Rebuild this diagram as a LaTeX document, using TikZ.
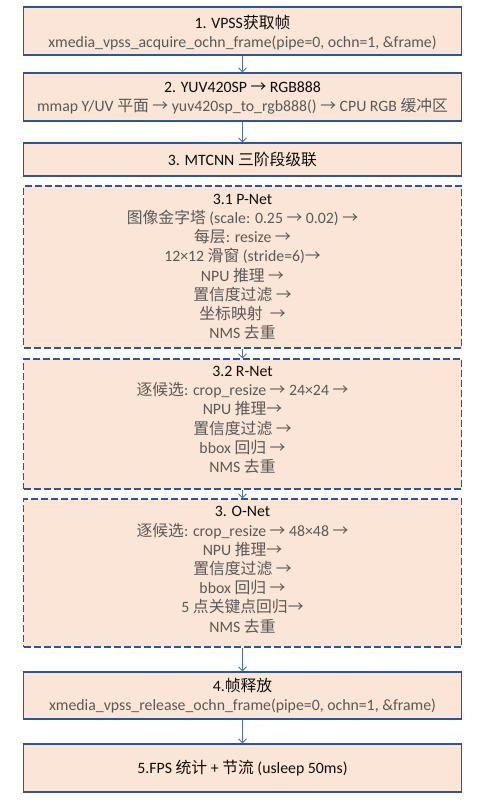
\documentclass[tikz,border=0pt]{standalone}
\usepackage{fontspec}
\setmainfont{Carlito}
\newfontfamily\cjk{Noto Sans CJK SC}
\usetikzlibrary{arrows.meta}
\definecolor{boxfill}{HTML}{FBE5D6}
\definecolor{boxline}{HTML}{2F5597}
\definecolor{arrowc}{HTML}{4472C4}
\definecolor{bodyc}{HTML}{595959}
\definecolor{titlec}{HTML}{0D0D0D}
\newcommand\zh[1]{{\cjk #1}}
\newcommand\ttl[1]{\textcolor{titlec}{#1}}
\begin{document}
\begin{tikzpicture}[x=1pt,y=-1pt,
 box/.style={draw=boxline, line width=1.2pt, fill=boxfill, minimum width=438pt, inner sep=0pt},
 dbox/.style={box, dash pattern=on 7pt off 3pt},
 txt/.style={align=center, font=\fontsize{15.8}{19.2}\selectfont, inner sep=0pt, text=bodyc},
 flow/.style={draw=arrowc, line width=0.9pt, -{Straight Barb[length=4pt,width=8pt]}}]
\useasboundingbox (0,0) rectangle (482,803);
\fill[white] (0,0) rectangle (482,803);
\node[box, minimum height=48pt] (b1) at (242.5,31) {};
\node[box, minimum height=48pt] (b2) at (242.5,97) {};
\node[box, minimum height=33pt] (b3) at (242.5,159.5) {};
\node[dbox, minimum height=162pt] (p) at (242.5,267) {};
\node[dbox, minimum height=130pt] (r) at (242.5,424) {};
\node[dbox, minimum height=148pt] (o) at (242.5,573) {};
\node[box, minimum height=47pt] (b4) at (242.5,695.5) {};
\node[box, minimum height=48pt] (b5) at (242.5,768) {};

\node[txt] (t1) at (242.5,33) {\ttl{1. VPSS\zh{获取帧}}\\ xmedia\_vpss\_acquire\_ochn\_frame(pipe=0, ochn=1, \&frame)};
\node[txt] (t2) at (242.5,98) {\ttl{2. YUV420SP \zh{→} RGB888}\\ mmap Y/UV \zh{平面} \zh{→} yuv420sp\_to\_rgb888() \zh{→} CPU RGB \zh{缓冲区}};
\node[txt] (t3) at (242.5,160) {\ttl{3. MTCNN \zh{三阶段级联}}};
\node[txt] (tp) at (242.5,267) {\ttl{3.1 P-Net}\\ \zh{图像金字塔} (scale: 0.25 \zh{→} 0.02) \zh{→}\\ \zh{每层}: resize \zh{→}\\ 12×12 \zh{滑窗} (stride=6)\zh{→}\\ NPU \zh{推理} \zh{→}\\ \zh{置信度过滤} \zh{→}\\ \zh{坐标映射} \ \zh{→}\\ NMS \zh{去重}};
\node[txt] (tr) at (242.5,420) {\ttl{3.2 R-Net}\\ \zh{逐候选}: crop\_resize \zh{→} 24×24 \zh{→}\\ NPU \zh{推理}\zh{→}\\ \zh{置信度过滤} \zh{→}\\ bbox \zh{回归} \zh{→}\\ NMS \zh{去重}};
\node[txt] (to) at (242.5,570) {\ttl{3. O-Net}\\ \zh{逐候选}: crop\_resize \zh{→} 48×48 \zh{→}\\ NPU \zh{推理}\zh{→}\\ \zh{置信度过滤} \zh{→}\\ bbox \zh{回归} \zh{→}\\ 5 \zh{点关键点回归}\zh{→}\\ NMS \zh{去重}};
\node[txt] (t4) at (242.5,695.5) {\ttl{4.\zh{帧释放}}\\ xmedia\_vpss\_release\_ochn\_frame(pipe=0, ochn=1, \&frame)};
\node[txt] (t5) at (242.5,768) {\ttl{5.FPS \zh{统计} + \zh{节流} (usleep 50ms)}};

\draw[flow] (b1.south) -- (b2.north);
\draw[flow] (b2.south) -- (b3.north);
\draw[flow] (p.south) -- (r.north);
\draw[flow] (r.south) -- (o.north);
\draw[flow] (o.south) -- (b4.north);
\draw[flow] (b4.south) -- (b5.north);
\end{tikzpicture}
\end{document}
